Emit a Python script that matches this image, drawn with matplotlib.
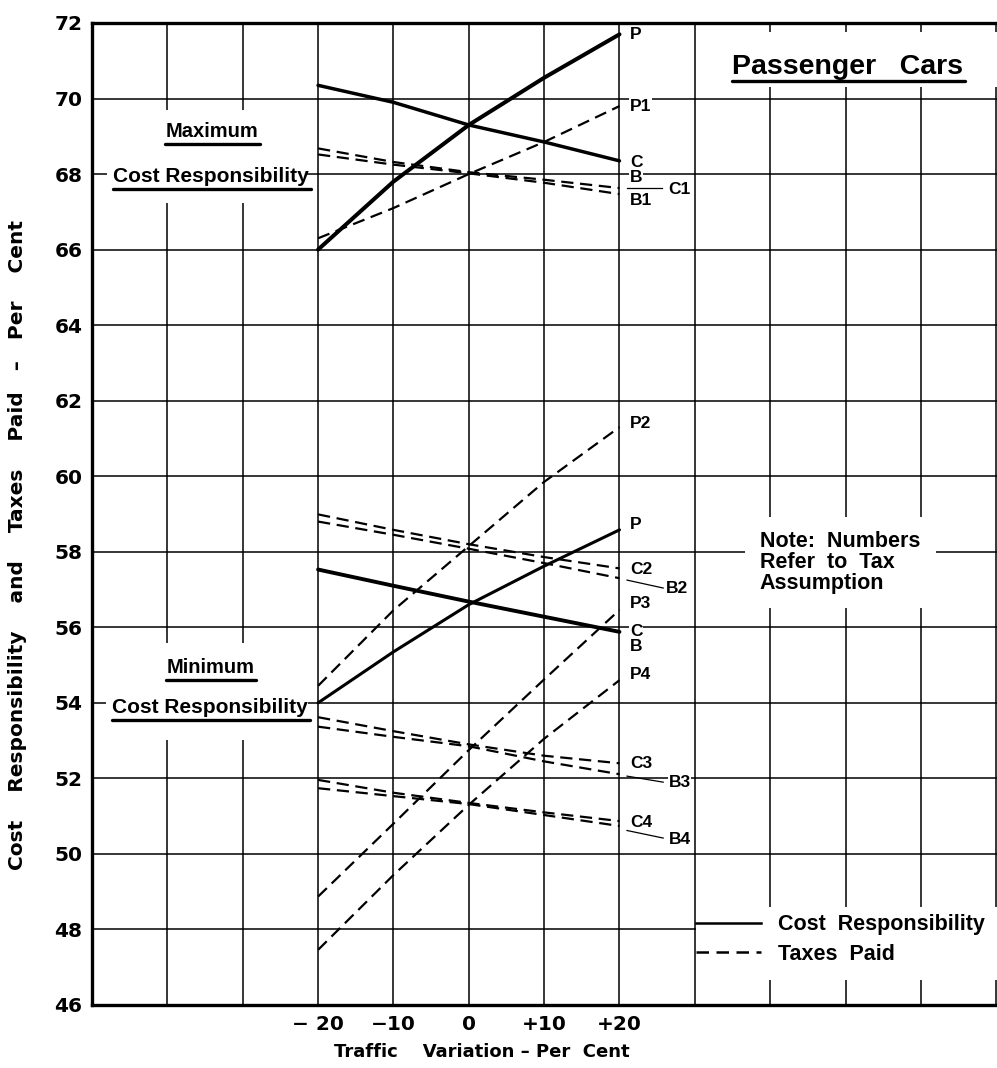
import matplotlib
matplotlib.use("Agg")
import matplotlib.pyplot as plt
from matplotlib import font_manager
from matplotlib.lines import Line2D
from matplotlib.patches import Rectangle

# traffic variation, per cent
traffic = [-20, -10, 0, 10, 20]

# maximum cost responsibility case
max_cost_p = [66.0, 67.8, 69.3, 70.55, 71.7]
max_cost_c = [70.35, 69.9, 69.3, 68.85, 68.35]
max_tax_p1 = [66.3, 67.1, 68.0, 68.85, 69.8]
max_tax_c1 = [68.68, 68.32, 68.05, 67.85, 67.63]
max_tax_b1 = [68.52, 68.25, 68.02, 67.77, 67.47]

# minimum cost responsibility case
min_cost_p = [54.0, 55.35, 56.6, 57.62, 58.58]
min_cost_c = [57.53, 57.1, 56.68, 56.28, 55.88]
min_tax_p2 = [54.45, 56.45, 58.15, 59.85, 61.3]
min_tax_c2 = [58.99, 58.58, 58.2, 57.86, 57.56]
min_tax_b2 = [58.8, 58.45, 58.08, 57.7, 57.3]
min_tax_p3 = [48.87, 50.8, 52.75, 54.62, 56.46]
min_tax_c3 = [53.62, 53.25, 52.9, 52.6, 52.4]
min_tax_b3 = [53.37, 53.1, 52.85, 52.45, 52.11]
min_tax_p4 = [47.46, 49.44, 51.3, 53.05, 54.6]
min_tax_c4 = [51.96, 51.62, 51.35, 51.1, 50.87]
min_tax_b4 = [51.74, 51.53, 51.32, 51.03, 50.74]

x_ticks = list(range(-50, 71, 10))
x_tick_labels = ["", "", "", "\u2212 20", "\u221210", "0", "+10", "+20", "", "", "", "", ""]
y_ticks = list(range(46, 73, 2))

installed = {f.name for f in font_manager.fontManager.ttflist}
TEXT_FONT = "Liberation Sans Narrow" if "Liberation Sans Narrow" in installed else "Liberation Sans"
NUM_FONT = "DejaVu Sans"

DASH = (0, (5.5, 3.0))

fig = plt.figure(figsize=(9.97, 10.68), dpi=100)
ax = fig.add_axes([92 / 997, 63 / 1068, 905 / 997, 982 / 1068])
ax.set_xlim(-50, 70.1)
ax.set_ylim(46, 72)

ax.set_xticks(x_ticks)
ax.set_xticklabels(x_tick_labels, fontfamily=NUM_FONT, fontweight="bold", fontsize=14.5)
ax.set_yticks(y_ticks)
ax.set_yticklabels([str(v) for v in y_ticks], fontfamily=NUM_FONT, fontweight="bold", fontsize=14.5)
ax.tick_params(length=0, pad=7)
ax.grid(color="black", linewidth=1.1)
ax.set_axisbelow(True)
for side in ("left", "bottom", "top"):
    ax.spines[side].set_linewidth(2.4)
ax.spines["right"].set_visible(False)

# white areas behind the captions
masks = [
    (-48.0, 67.23, 26.3, 2.47),    # maximum caption
    (-48.1, 53.02, 26.8, 2.57),    # minimum caption
    (31.0, 70.3, 39.1, 1.45),      # title
    (36.7, 56.51, 25.3, 2.41),     # note
    (30.15, 46.66, 40.0, 1.94),    # legend
]
for x0, y0, w, h in masks:
    ax.add_patch(Rectangle((x0, y0), w, h, facecolor="white", edgecolor="none", zorder=1))

# cost responsibility (solid) and taxes paid (dashed)
solid = dict(color="black", zorder=3, solid_capstyle="round")
ax.plot(traffic, max_cost_p, lw=2.9, **solid)
ax.plot(traffic, max_cost_c, lw=2.5, **solid)
for ys in (max_tax_p1, max_tax_c1, max_tax_b1):
    ax.plot(traffic, ys, color="black", lw=1.6, linestyle=DASH, zorder=3)

ax.plot(traffic, min_cost_p, lw=2.2, **solid)
ax.plot(traffic, min_cost_c, lw=2.8, **solid)
for ys in (min_tax_p2, min_tax_c2, min_tax_b2, min_tax_p3, min_tax_c3,
           min_tax_b3, min_tax_p4, min_tax_c4, min_tax_b4):
    ax.plot(traffic, ys, color="black", lw=1.6, linestyle=DASH, zorder=3)

# end labels
lbl = dict(fontfamily=TEXT_FONT, fontweight="bold", fontsize=12.5, va="center", ha="left",
           zorder=4, bbox=dict(facecolor="white", edgecolor="none", pad=0.5))
lx = 21.4
ax.text(lx, max_cost_p[-1], "P", **lbl)
ax.text(lx, max_tax_p1[-1], "P1", **lbl)
ax.text(lx, max_cost_c[-1] - 0.05, "C", **lbl)
ax.text(lx, 67.9, "B", **lbl)
ax.text(lx, max_tax_b1[-1] - 0.16, "B1", **lbl)
ax.text(26.5, max_tax_c1[-1] - 0.05, "C1", **lbl)
ax.plot([21.0, 25.6], [max_tax_c1[-1], max_tax_c1[-1]], color="black", lw=0.9, zorder=4)

ax.text(lx, min_tax_p2[-1] + 0.1, "P2", **lbl)
ax.text(lx, min_cost_p[-1] + 0.15, "P", **lbl)
ax.text(lx, min_tax_c2[-1] - 0.04, "C2", **lbl)
ax.text(26.2, 57.04, "B2", **lbl)
ax.plot([21.0, 25.8], [min_tax_b2[-1] - 0.05, 57.04], color="black", lw=0.9, zorder=4)
ax.text(lx, min_tax_p3[-1] + 0.18, "P3", **lbl)
ax.text(lx, min_cost_c[-1], "C", **lbl)
ax.text(lx, min_cost_c[-1] - 0.4, "B", **lbl)
ax.text(lx, min_tax_p4[-1] + 0.16, "P4", **lbl)
ax.text(lx, min_tax_c3[-1], "C3", **lbl)
ax.text(26.5, 51.88, "B3", **lbl)
ax.plot([21.0, 25.8], [min_tax_b3[-1] - 0.05, 51.9], color="black", lw=0.9, zorder=4)
ax.text(lx, min_tax_c4[-1] - 0.05, "C4", **lbl)
ax.text(26.5, 50.37, "B4", **lbl)
ax.plot([21.0, 25.8], [min_tax_b4[-1] - 0.12, 50.42], color="black", lw=0.9, zorder=4)

# captions
cap = dict(fontfamily=TEXT_FONT, fontweight="bold", ha="center", va="baseline", zorder=4)
underlined = []
underlined.append(ax.text(-34.1, 68.98, "Maximum", fontsize=14.5, **cap))
underlined.append(ax.text(-34.2, 67.8, "Cost Responsibility", fontsize=15, **cap))
underlined.append(ax.text(-34.3, 54.8, "Minimum", fontsize=14.5, **cap))
underlined.append(ax.text(-34.3, 53.73, "Cost Responsibility", fontsize=15, **cap))
underlined.append(ax.text(50.2, 70.65, "Passenger   Cars", fontsize=20.5,
                          fontweight="bold", fontfamily=TEXT_FONT, ha="center",
                          va="baseline", zorder=4))

ax.text(38.6, 57.72, "Note:  Numbers\nRefer  to  Tax\nAssumption", fontfamily=TEXT_FONT,
        fontweight="bold", fontsize=15.5, ha="left", va="center", linespacing=1.02, zorder=4)

# legend
handles = [Line2D([], [], color="black", lw=1.8),
           Line2D([], [], color="black", lw=1.8, linestyle=(0, (5.0, 3.0)))]
leg = ax.legend(handles, ["Cost  Responsibility", "Taxes  Paid"], loc="lower right",
                bbox_to_anchor=(1.008, 0.021), frameon=False, handlelength=3.0,
                handletextpad=0.8, labelspacing=0.4,
                prop=dict(family=TEXT_FONT, weight="bold", size=15.5))
leg.set_zorder(5)

# axis titles
fig.text(18 / 997, 1 - 545 / 1068,
         "Cost    Responsibility    and    Taxes    Paid   \u2013   Per    Cent",
         rotation=90, ha="center", va="center", fontfamily=NUM_FONT, fontweight="bold",
         fontsize=14.5)
fig.text(482 / 997, 1 - 1052 / 1068, "Traffic    Variation \u2013 Per  Cent",
         ha="center", va="center", fontfamily=NUM_FONT, fontweight="bold", fontsize=13)

# underline the captions
fig.canvas.draw()
renderer = fig.canvas.get_renderer()
to_data = ax.transData.inverted()
for t in underlined:
    bb = t.get_window_extent(renderer)
    base = ax.transData.transform(t.get_position())[1]
    (x0, y0), (x1, _) = to_data.transform([(bb.x0, base - 7), (bb.x1 + 2, base - 7)])
    ax.plot([x0, x1], [y0, y0], color="black", lw=2.4, solid_capstyle="round", zorder=4)

fig.savefig("out.png", dpi=100)
